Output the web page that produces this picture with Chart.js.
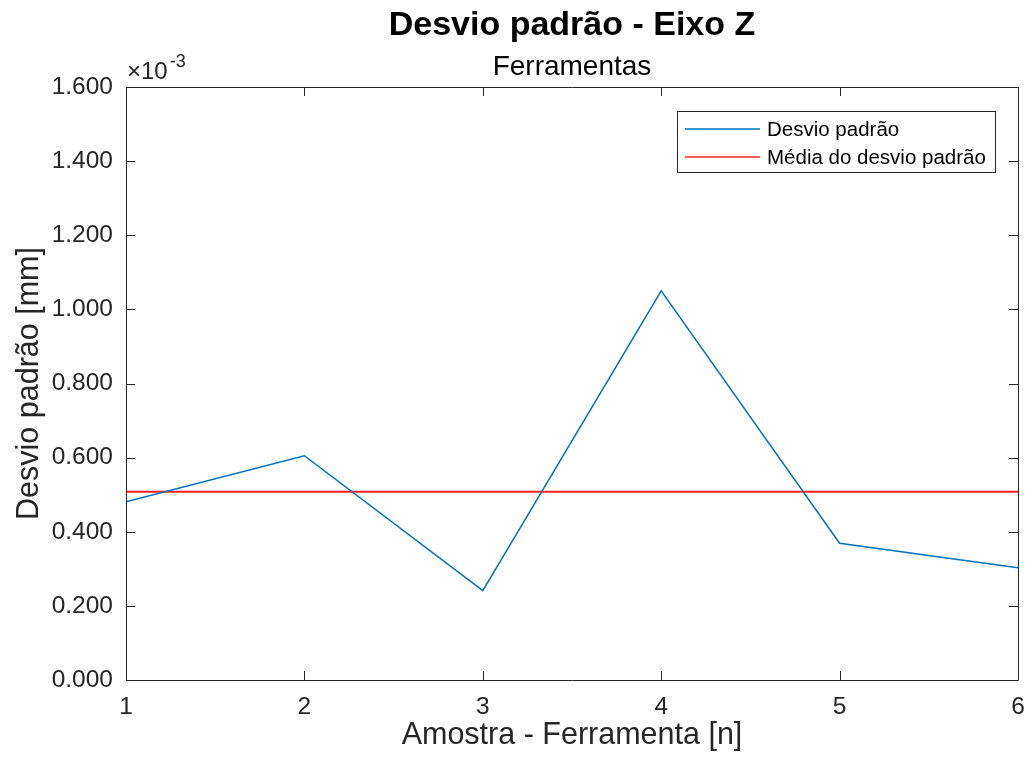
<!DOCTYPE html>
<html>
<head>
<meta charset="utf-8">
<script src="https://cdn.jsdelivr.net/npm/chart.js@4.4.1/dist/chart.umd.min.js"></script>
<style>
  html, body { margin: 0; padding: 0; background: #ffffff; }
  #wrap { width: 1027px; height: 763px; }
</style>
</head>
<body>
<div id="wrap"><canvas id="grafico" width="1027" height="763"></canvas></div>
<script>
// Amostras (ferramentas) e desvio padrão medido no eixo Z, em mm
const amostras = [1, 2, 3, 4, 5, 6];
const desvioPadrao = [0.000481, 0.000605, 0.000241, 0.001050, 0.000369, 0.000303];
const mediaDesvio = 0.000508;
const yTicks = [0, 0.0002, 0.0004, 0.0006, 0.0008, 0.0010, 0.0012, 0.0014, 0.0016];
const xTicks = [1, 2, 3, 4, 5, 6];

const tituloTexto = 'Desvio padrão - Eixo Z';
const subtituloTexto = 'Ferramentas';
const rotuloX = 'Amostra - Ferramenta [n]';
const rotuloY = 'Desvio padrão [mm]';
const serieNomes = ['Desvio padrão', 'Média do desvio padrão'];

const FONTE = "'Liberation Sans', Arial, Helvetica, sans-serif";
const EIXO_COR = '#262626';
const TICK_LEN = 9;

// Moldura do eixo com marcas internas, títulos, multiplicador e legenda
const estiloMatlab = {
  id: 'estiloMatlab',
  afterDraw(chart) {
    const ctx = chart.ctx;
    const a = chart.chartArea;
    const xs = chart.scales.x, ys = chart.scales.y;
    ctx.save();
    ctx.strokeStyle = EIXO_COR;
    ctx.lineWidth = 1;
    ctx.beginPath();
    ctx.rect(Math.round(a.left) + 0.5, Math.round(a.top) + 0.5,
             Math.round(a.right - a.left), Math.round(a.bottom - a.top));
    ctx.stroke();
    ctx.beginPath();
    xs.ticks.forEach(t => {
      const px = Math.round(xs.getPixelForValue(t.value)) + 0.5;
      ctx.moveTo(px, a.bottom); ctx.lineTo(px, a.bottom - TICK_LEN);
      ctx.moveTo(px, a.top); ctx.lineTo(px, a.top + TICK_LEN);
    });
    ys.ticks.forEach(t => {
      const py = Math.round(ys.getPixelForValue(t.value)) + 0.5;
      ctx.moveTo(a.left, py); ctx.lineTo(a.left + TICK_LEN, py);
      ctx.moveTo(a.right, py); ctx.lineTo(a.right - TICK_LEN, py);
    });
    ctx.stroke();

    // Título e subtítulo
    const cx = (a.left + a.right) / 2;
    ctx.fillStyle = '#000000';
    ctx.textAlign = 'center';
    ctx.textBaseline = 'alphabetic';
    ctx.font = 'bold 34px ' + FONTE;
    ctx.fillText(tituloTexto, cx, 35);
    ctx.font = '28px ' + FONTE;
    ctx.fillText(subtituloTexto, cx, 75);

    // Multiplicador do eixo Y
    ctx.fillStyle = EIXO_COR;
    ctx.textAlign = 'left';
    ctx.font = '24px ' + FONTE;
    ctx.fillText('\u00d710', a.left + 1, 79);
    const w = ctx.measureText('\u00d710').width;
    ctx.font = '18px ' + FONTE;
    ctx.fillText('-3', a.left + 1 + w + 2, 67);

    // Legenda dentro da área do gráfico
    const lx = 677, ly = 111, lw = 318, lh = 61;
    ctx.fillStyle = '#ffffff';
    ctx.fillRect(lx, ly, lw, lh);
    ctx.strokeStyle = EIXO_COR;
    ctx.strokeRect(lx + 0.5, ly + 0.5, lw, lh);
    const linhas = [129, 157];
    chart.data.datasets.forEach((ds, i) => {
      ctx.strokeStyle = ds.borderColor;
      ctx.lineWidth = 1.5;
      ctx.beginPath();
      ctx.moveTo(685, linhas[i]); ctx.lineTo(760, linhas[i]);
      ctx.stroke();
      ctx.fillStyle = '#000000';
      ctx.font = '20.5px ' + FONTE;
      ctx.textBaseline = 'middle';
      ctx.fillText(ds.label, 767, linhas[i] + 1);
    });
    ctx.restore();
  }
};

new Chart(document.getElementById('grafico'), {
  type: 'line',
  data: {
    datasets: [
      {
        label: serieNomes[0],
        data: amostras.map((x, i) => ({ x: x, y: desvioPadrao[i] })),
        borderColor: '#0072BD',
        borderWidth: 1.5,
        pointRadius: 0,
        tension: 0
      },
      {
        label: serieNomes[1],
        data: [{ x: amostras[0], y: mediaDesvio }, { x: amostras[amostras.length - 1], y: mediaDesvio }],
        borderColor: '#FF2020',
        borderWidth: 2,
        pointRadius: 0,
        tension: 0
      }
    ]
  },
  options: {
    responsive: false,
    animation: false,
    layout: { padding: { top: 87, right: 9, left: 0, bottom: 0 } },
    plugins: {
      legend: { display: false },
      title: { display: false },
      tooltip: { enabled: false }
    },
    scales: {
      x: {
        type: 'linear',
        min: 1,
        max: 6,
        afterFit(s) { s.height = 83; s.paddingLeft = 0; s.paddingRight = 0; },
        afterBuildTicks(s) { s.ticks = xTicks.map(v => ({ value: v })); },
        grid: { display: false, drawTicks: false, tickLength: 0 },
        border: { display: false },
        ticks: {
          padding: 13,
          color: EIXO_COR,
          font: { family: FONTE, size: 24.5 },
          callback: v => String(v)
        },
        title: {
          display: true,
          text: rotuloX,
          color: EIXO_COR,
          font: { family: FONTE, size: 30.5 },
          padding: { top: 0, bottom: 9 }
        }
      },
      y: {
        min: 0,
        max: 0.0016,
        afterFit(s) { s.width = 126; s.paddingTop = 0; s.paddingBottom = 0; },
        afterBuildTicks(s) { s.ticks = yTicks.map(v => ({ value: v })); },
        grid: { display: false, drawTicks: false, tickLength: 0 },
        border: { display: false },
        ticks: {
          padding: 13,
          color: EIXO_COR,
          font: { family: FONTE, size: 24.5 },
          callback: v => (v * 1000).toFixed(3)
        },
        title: {
          display: true,
          text: rotuloY,
          color: EIXO_COR,
          font: { family: FONTE, size: 30.5 },
          padding: { top: 11, bottom: 0 }
        }
      }
    }
  },
  plugins: [estiloMatlab]
});
</script>
</body>
</html>
